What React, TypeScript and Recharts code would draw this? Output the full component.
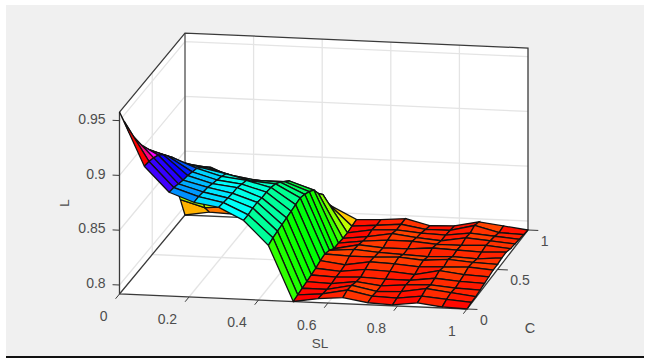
import { ScatterChart, Scatter, XAxis, YAxis } from "recharts";

// L, one array per SL column, C = 0 ... 1 in 15 steps
const L_SL00 = [0.9578, 0.9441, 0.9295, 0.9167, 0.9067, 0.8994, 0.8921, 0.8839, 0.8784, 0.8711, 0.8611, 0.8465, 0.8283, 0.811, 0.7918];
const L_SL01 = [0.9094, 0.9085, 0.9067, 0.904, 0.8994, 0.893, 0.8866, 0.8784, 0.8711, 0.8638, 0.8538, 0.842, 0.8237, 0.8046, 0.7954];
const L_SL02 = [0.8866, 0.8857, 0.8839, 0.8821, 0.8812, 0.8794, 0.8775, 0.873, 0.8684, 0.8629, 0.8538, 0.8392, 0.8219, 0.8064, 0.7945];
const L_SL03 = [0.8784, 0.8784, 0.8775, 0.8766, 0.8748, 0.873, 0.8711, 0.8684, 0.862, 0.8538, 0.8438, 0.8301, 0.8173, 0.8037, 0.7936];
const L_SL04 = [0.8748, 0.8739, 0.873, 0.8721, 0.8721, 0.8702, 0.8684, 0.8629, 0.8584, 0.8529, 0.8447, 0.8328, 0.8192, 0.8046, 0.7936];
const L_SL05 = [0.8638, 0.8638, 0.8648, 0.8648, 0.8638, 0.8638, 0.8629, 0.8611, 0.8575, 0.8529, 0.8483, 0.841, 0.8283, 0.8119, 0.7991];
const L_SL06 = [0.842, 0.8438, 0.8447, 0.8456, 0.8465, 0.8474, 0.8483, 0.8493, 0.8474, 0.8447, 0.841, 0.8328, 0.8265, 0.8137, 0.8055];
const L_SL07 = [0.7918, 0.7927, 0.7936, 0.7945, 0.7954, 0.7964, 0.7982, 0.7991, 0.7973, 0.7936, 0.7936, 0.7927, 0.7927, 0.7936, 0.7945];
const L_SL08 = [0.7954, 0.7945, 0.7936, 0.7936, 0.7945, 0.7945, 0.7954, 0.7982, 0.7991, 0.7982, 0.7964, 0.7954, 0.7964, 0.7954, 0.7954];
const L_SL09 = [0.7973, 0.7991, 0.7982, 0.7964, 0.7954, 0.7973, 0.7991, 0.7982, 0.7973, 0.7964, 0.7982, 0.7991, 0.7973, 0.7973, 0.7973];
const L_SL10 = [0.7936, 0.7945, 0.7936, 0.7936, 0.7945, 0.7964, 0.7982, 0.7991, 0.7964, 0.7964, 0.7982, 0.7964, 0.7954, 0.7936, 0.7918];
const L_SL11 = [0.7927, 0.7936, 0.7945, 0.7954, 0.7945, 0.7945, 0.7964, 0.7973, 0.7954, 0.7982, 0.7964, 0.7945, 0.7945, 0.7936, 0.7927];
const L_SL12 = [0.7954, 0.7964, 0.7982, 0.7964, 0.7973, 0.7991, 0.7973, 0.7991, 0.7964, 0.7973, 0.7964, 0.7982, 0.7973, 0.7991, 0.7973];
const L_SL13 = [0.7927, 0.7945, 0.7954, 0.7945, 0.7954, 0.7964, 0.7982, 0.7973, 0.7954, 0.7964, 0.7973, 0.7964, 0.7954, 0.7936, 0.7945];
const L_SL14 = [0.7918, 0.7927, 0.7927, 0.7936, 0.7945, 0.7954, 0.7964, 0.7964, 0.7973, 0.7973, 0.7954, 0.7945, 0.7936, 0.7927, 0.7918];

const surface = [
  L_SL00, L_SL01, L_SL02, L_SL03, L_SL04, L_SL05, L_SL06, L_SL07,
  L_SL08, L_SL09, L_SL10, L_SL11, L_SL12, L_SL13, L_SL14,
];

const slTicks = [0, 0.2, 0.4, 0.6, 0.8, 1];
const cTicks = [0, 0.5, 1];
const lTicks = [0.8, 0.85, 0.9, 0.95];
const L_MIN = 0.7918;
const L_MAX = 0.9578;

type Pt = { x: number; y: number; label?: string };

// orthographic-ish view of the box, floor corners in chart units
function project(sl: number, c: number, l: number): Pt {
  const x = (1 - c) * (119.5 + 347.5 * sl) + c * (185 + 343 * sl);
  const floor = 294 + 15 * sl - 79 * c;
  return { x, y: floor - ((l - L_MIN) / 0.05) * 54.8 };
}

function hsv(l: number) {
  const hue = (360 * (l - L_MIN)) / (L_MAX - L_MIN);
  return `hsl(${hue.toFixed(0)},100%,50%)`;
}

const Nothing = () => null;

function segment(key: string, pts: Pt[], stroke: string, strokeWidth = 1, fill = "none") {
  return (
    <Scatter
      key={key}
      data={pts}
      line={{ stroke, strokeWidth, fill }}
      shape={Nothing}
      legendType="none"
      isAnimationActive={false}
    />
  );
}

function labels(key: string, pts: Pt[], anchor: string, dx: number, dy: number) {
  return (
    <Scatter
      key={key}
      data={pts}
      legendType="none"
      isAnimationActive={false}
      shape={(p: any) => (
        <text
          x={p.cx + dx}
          y={p.cy + dy}
          textAnchor={anchor}
          dominantBaseline="middle"
          fontFamily="Liberation Sans"
          fontSize={14}
          fill="#4d4d4d"
        >
          {p.payload.label}
        </text>
      )}
    />
  );
}

const walls: Pt[] = [
  project(0, 0, L_MAX),
  project(0, 1, L_MAX),
  project(1, 1, L_MAX),
  project(1, 1, L_MIN),
  project(1, 0, L_MIN),
  project(0, 0, L_MIN),
  project(0, 0, L_MAX),
];

const GRID = "#e4e4e4";
const BOX = "#3a3a3a";

function gridLines() {
  const out: any[] = [];
  slTicks.slice(1, -1).forEach((s) => {
    out.push(segment(`gf${s}`, [project(s, 0, L_MIN), project(s, 1, L_MIN)], GRID, 1.3));
    out.push(segment(`gb${s}`, [project(s, 1, L_MIN), project(s, 1, L_MAX)], GRID, 1.3));
  });
  out.push(segment("gc0", [project(0, 0.5, L_MIN), project(1, 0.5, L_MIN)], GRID, 1.3));
  out.push(segment("gc1", [project(0, 0.5, L_MIN), project(0, 0.5, L_MAX)], GRID, 1.3));
  lTicks.forEach((l) => {
    out.push(segment(`gl${l}`, [project(0, 0, l), project(0, 1, l), project(1, 1, l)], GRID, 1.3));
  });
  return out;
}

function boxLines() {
  return [
    segment("b0", [project(0, 1, L_MIN), project(0, 1, L_MAX)], "#666", 1.5),
    segment("b1", [project(0, 0, L_MAX), project(0, 1, L_MAX), project(1, 1, L_MAX), project(1, 1, L_MIN)], BOX, 1.3),
    segment("b2", [project(0, 0, L_MAX), project(0, 0, L_MIN), project(1, 0, L_MIN), project(1, 1, L_MIN)], BOX, 1.3),
    segment("b3", [project(0, 0, L_MIN), project(0, 1, L_MIN), project(1, 1, L_MIN)], BOX, 1.3),
  ];
}

// painter's order: far corner (SL = 0, C = 1) first
function faces() {
  const out: any[] = [];
  const n = surface.length - 1;
  const m = surface[0].length - 1;
  for (let j = m - 1; j >= 0; j--) {
    for (let i = 0; i < n; i++) {
      const pts = [
        project(i / n, j / m, surface[i][j]),
        project((i + 1) / n, j / m, surface[i + 1][j]),
        project((i + 1) / n, (j + 1) / m, surface[i + 1][j + 1]),
        project(i / n, (j + 1) / m, surface[i][j + 1]),
        project(i / n, j / m, surface[i][j]),
      ];
      out.push(segment(`f${i}-${j}`, pts, "#111", 1.3, hsv(surface[i][j])));
    }
  }
  return out;
}

function ticks() {
  const out: any[] = [];
  slTicks.forEach((s) => out.push(segment(`ts${s}`, [project(s, 0, L_MIN), project(s, -0.06, L_MIN)], BOX)));
  cTicks.forEach((c) => out.push(segment(`tc${c}`, [project(1, c, L_MIN), project(1.03, c, L_MIN)], BOX)));
  lTicks.forEach((l) => out.push(segment(`tl${l}`, [project(0, 0, l), project(-0.02, 0, l)], BOX)));
  return out;
}

const slLabels = slTicks.map((s) => ({ ...project(s, -0.16, L_MIN), label: String(s) }));
const cLabels = cTicks.map((c) => ({ ...project(1.04, c, L_MIN), label: String(c) }));
const lLabels = lTicks.map((l) => ({ ...project(-0.04, 0, l), label: String(l) }));

export default function App() {
  return (
    <div style={{ position: "absolute", left: 0, top: 0, width: 650, height: 362, background: "#fff" }}>
      <div
        style={{
          position: "absolute",
          left: 6,
          top: 5,
          width: 638,
          height: 351,
          background: "#f0f0f0",
          borderBottom: "2px solid #111",
        }}
      />
      <div style={{ position: "absolute", left: 0, top: 0 }}>
        <ScatterChart width={650} height={362} margin={{ top: 0, right: 0, bottom: 0, left: 0 }}>
          <XAxis type="number" dataKey="x" domain={[0, 650]} hide />
          <YAxis type="number" dataKey="y" domain={[0, 362]} reversed hide />
          {segment("walls", walls, "none", 0, "#ffffff")}
          {gridLines()}
          {boxLines()}
          {faces()}
          {ticks()}
          {labels("sl", slLabels, "end", -1.5, 10.5)}
          {labels("c", cLabels, "start", -1, 11.5)}
          {labels("l", lLabels, "end", 0, 0)}
          <text x={320} y={344} textAnchor="middle" dominantBaseline="middle" fontFamily="Liberation Sans" fontSize={13.5} fill="#4d4d4d">
            SL
          </text>
          <text x={530} y={329} textAnchor="middle" dominantBaseline="middle" fontFamily="Liberation Sans" fontSize={14.5} fill="#4d4d4d">
            C
          </text>
          <text
            x={65}
            y={203}
            textAnchor="middle"
            dominantBaseline="middle"
            fontFamily="Liberation Sans"
            fontSize={13.5}
            fill="#4d4d4d"
            transform="rotate(-90 65 203)"
          >
            L
          </text>
        </ScatterChart>
      </div>
    </div>
  );
}
